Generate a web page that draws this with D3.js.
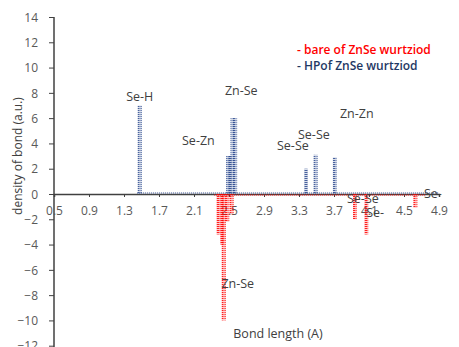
<!DOCTYPE html>
<html>
<head>
<meta charset="utf-8">
<script src="https://cdn.jsdelivr.net/npm/d3@7"></script>
<style>
  body { margin: 0; background: #fff; }
  text { font-family: "Open Sans", sans-serif; }
</style>
</head>
<body>
<script>
// данные
const hpX = [1.48, 2.49, 2.51, 2.54, 2.57, 3.38, 3.49, 3.71];
const hpY = [7, 3, 3, 6, 6, 2, 3.1, 2.9];
const bareX = [2.38, 2.42, 2.44, 2.48, 2.53, 3.94, 4.07, 4.63];
const bareY = [-3.2, -4, -10, -2.2, -1.6, -2, -3.2, -1.1];
const xTicks = [0.5, 0.9, 1.3, 1.7, 2.1, 2.5, 2.9, 3.3, 3.7, 4.1, 4.5, 4.9];
const yTicks = [-12, -10, -8, -6, -4, -2, 0, 2, 4, 6, 8, 10, 12, 14];
const labelText = ["Se-H", "Zn-Se", "Se-Zn", "Se-Se", "Se-Se", "Zn-Zn", "Se-Se", "Se-", "Se-", "Zn-Se"];
const labelX = [1.48, 2.64, 2.15, 3.23, 3.47, 3.96, 4.03, 4.17, 4.83, 2.60];
const labelY = [7.36, 7.83, 3.88, 3.48, 4.35, 6.01, -0.71, -1.82, -0.32, -7.44];
const legendText = ["- bare of ZnSe wurtziod", "- HPof ZnSe wurtziod"];

const width = 459, height = 347;
const red = "#ff0000", blue = "#2f4b8f";

const svg = d3.select("body").append("svg").attr("width", width).attr("height", height);

const x = d3.scaleLinear().domain([0.5, 4.9]).range([54, 439]);
const y = d3.scaleLinear().domain([-12, 14]).range([345.7, 17]);

// штриховка столбиков (пунктирные столбики как в Excel)
const defs = svg.append("defs");
[["hpPat", blue], ["barePat", red]].forEach(([id, c]) => {
  const p = defs.append("pattern").attr("id", id).attr("patternUnits", "userSpaceOnUse")
    .attr("width", 4).attr("height", 2);
  p.append("rect").attr("width", 4).attr("height", 2).attr("fill", c).attr("fill-opacity", 0.18);
  p.append("rect").attr("x", 0.5).attr("width", 3).attr("height", 1).attr("fill", c).attr("fill-opacity", 0.85);
});

// оси
const yAxis = svg.append("g").attr("transform", `translate(${x(0.5)},0)`)
  .call(d3.axisLeft(y).tickValues(yTicks).tickSize(5).tickPadding(11).tickFormat(d3.format("d")));
yAxis.select(".domain").attr("stroke", "#404040").attr("stroke-width", 1.5).attr("d", `M0,${y(14)}V${height}`);
yAxis.selectAll(".tick line").attr("stroke", "#404040");
yAxis.selectAll(".tick text").attr("fill", "#595959").style("font-size", "12px").attr("dy", "0.35em");

const xAxis = svg.append("g").attr("transform", `translate(0,${y(0)})`)
  .call(d3.axisBottom(x).tickValues(xTicks).tickSize(3).tickPadding(9).tickFormat(d3.format(".1f")));
xAxis.select(".domain").attr("stroke", "#404040").attr("stroke-width", 1.5);
xAxis.selectAll(".tick line").attr("stroke", "#404040");
xAxis.selectAll(".tick text").attr("fill", "#595959").style("font-size", "12px");

// пунктир по нулю
svg.append("line").attr("x1", x(1.45)).attr("x2", x(4.9)).attr("y1", y(0) - 1).attr("y2", y(0) - 1)
  .attr("stroke", blue).attr("stroke-dasharray", "1,1").attr("stroke-width", 1);
svg.append("line").attr("x1", x(2.33)).attr("x2", x(4.75)).attr("y1", y(0) + 1).attr("y2", y(0) + 1)
  .attr("stroke", red).attr("stroke-dasharray", "1,1").attr("stroke-width", 1);

// столбики
svg.selectAll(".hp").data(hpX).enter().append("rect").attr("class", "hp")
  .attr("x", (d) => x(d) - 2).attr("width", 4)
  .attr("y", (d, i) => y(hpY[i])).attr("height", (d, i) => y(0) - y(hpY[i]))
  .attr("fill", "url(#hpPat)");

svg.selectAll(".bare").data(bareX).enter().append("rect").attr("class", "bare")
  .attr("x", (d) => x(d) - 2).attr("width", 4)
  .attr("y", y(0)).attr("height", (d, i) => y(bareY[i]) - y(0))
  .attr("fill", "url(#barePat)");

// подписи связей
svg.selectAll(".lbl").data(labelText).enter().append("text").attr("class", "lbl")
  .attr("x", (d, i) => x(labelX[i])).attr("y", (d, i) => y(labelY[i]))
  .attr("text-anchor", "middle").attr("fill", "#404040").style("font-size", "12.5px")
  .text((d) => d);

// заголовки осей
svg.append("text").attr("x", 278).attr("y", 338).attr("text-anchor", "middle")
  .attr("fill", "#404040").style("font-size", "12.5px").text("Bond length (A)");
svg.append("text").attr("transform", "translate(22,156) rotate(-90)").attr("text-anchor", "middle")
  .attr("fill", "#404040").style("font-size", "12px").text("density of bond (a.u.)");

// легенда
svg.selectAll(".leg").data(legendText).enter().append("text").attr("class", "leg")
  .attr("x", 297).attr("y", (d, i) => 54 + i * 16)
  .attr("fill", (d, i) => (i === 0 ? red : "#1f3864")).style("font-size", "12px").style("font-weight", "600")
  .text((d) => d);
</script>
</body>
</html>
